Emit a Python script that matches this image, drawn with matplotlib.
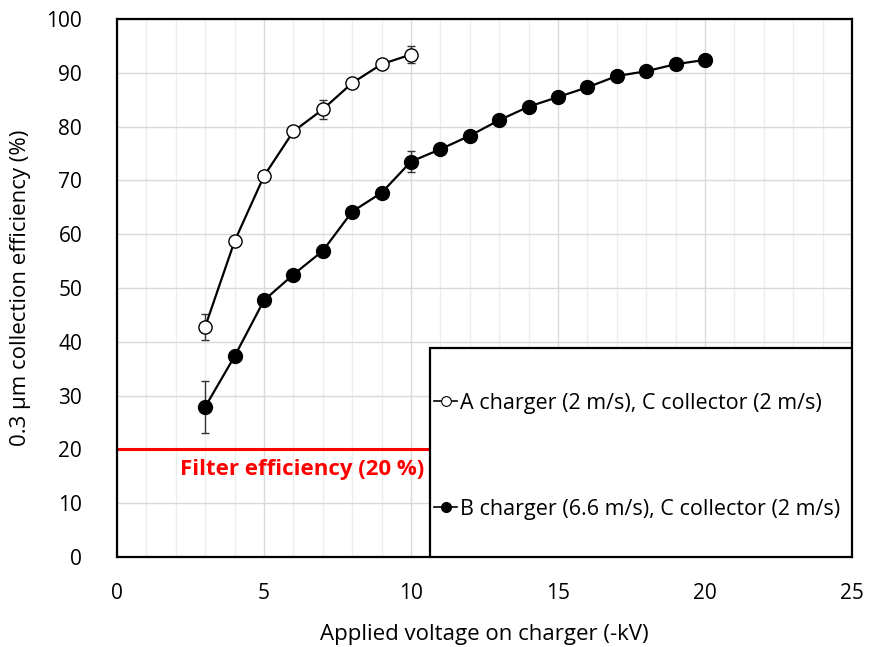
import numpy as np
import matplotlib
matplotlib.use("Agg")
import matplotlib.pyplot as plt
from matplotlib.patches import Rectangle
from matplotlib.lines import Line2D
from matplotlib.ticker import MultipleLocator

plt.rcParams['font.family'] = ['Open Sans', 'DejaVu Sans']

# A charger (2 m/s), C collector (2 m/s)
volt_a = [3, 4, 5, 6, 7, 8, 9, 10]
eff_a = [42.8, 58.7, 70.8, 79.1, 83.2, 88.1, 91.6, 93.4]
err_a = [2.4, 0, 0, 0, 1.8, 0, 0, 1.6]

# B charger (6.6 m/s), C collector (2 m/s)
volt_b = [3, 4, 5, 6, 7, 8, 9, 10, 11, 12, 13, 14, 15, 16, 17, 18, 19, 20]
eff_b = [27.9, 37.3, 47.7, 52.5, 56.9, 64.2, 67.7, 73.5, 75.8, 78.3, 81.2,
         83.7, 85.5, 87.3, 89.4, 90.3, 91.6, 92.4]
err_b = [4.9, 0, 0, 0, 1.1, 0, 0, 2.0, 0, 0, 0, 0, 0, 0, 0, 0, 0, 0]

label_a = "A charger (2 m/s), C collector (2 m/s)"
label_b = "B charger (6.6 m/s), C collector (2 m/s)"
filter_eff = 20

fig = plt.figure(figsize=(8.69, 6.47), dpi=100)
ax = fig.add_axes([0.1346, 0.1391, 0.8458, 0.8315])

ax.set_xlim(0, 25)
ax.set_ylim(0, 100)
ax.xaxis.set_major_locator(MultipleLocator(5))
ax.xaxis.set_minor_locator(MultipleLocator(1))
ax.yaxis.set_major_locator(MultipleLocator(10))
ax.grid(which='major', color='#d9d9d9', linewidth=1)
ax.grid(which='minor', axis='x', color='#ededed', linewidth=1)
ax.set_axisbelow(True)
ax.tick_params(which='both', length=0, labelsize=15)
ax.tick_params(axis='y', pad=25)
ax.tick_params(axis='x', pad=19)
for sp in ax.spines.values():
    sp.set_linewidth(1.6)
    sp.set_color('black')

ax.set_xlabel("Applied voltage on charger (-kV)", fontsize=16, labelpad=14)
ax.set_ylabel("0.3 μm collection efficiency (%)", fontsize=16, labelpad=11)

ax.axhline(filter_eff, color='#ff0000', linewidth=2.2, zorder=2)
ax.text(10.45, 16.2, "Filter efficiency (20 %)", color='#ff0000', fontsize=16,
        fontweight='bold', ha='right', va='center')

ax.errorbar(volt_a, eff_a, yerr=err_a, color='black', linewidth=1.6,
            marker='o', markersize=9.5, markerfacecolor='white',
            markeredgecolor='black', markeredgewidth=1.0,
            ecolor='#333333', elinewidth=1, capsize=3, label=label_a, zorder=3)
ax.errorbar(volt_b, eff_b, yerr=err_b, color='black', linewidth=1.6,
            marker='o', markersize=10, markerfacecolor='black',
            markeredgecolor='black',
            ecolor='#333333', elinewidth=1, capsize=3, label=label_b, zorder=3)

# legend box covering the lower right
box = Rectangle((0.426, 0), 0.574, 0.3885, transform=ax.transAxes,
                facecolor='white', edgecolor='black', linewidth=1.6, zorder=5)
ax.add_patch(box)

h_a = Line2D([], [], color='black', linewidth=1.2, marker='o', markersize=7,
             markerfacecolor='white', markeredgecolor='black', markeredgewidth=0.8)
h_b = Line2D([], [], color='black', linewidth=1.2, marker='o', markersize=7,
             markerfacecolor='black', markeredgecolor='black')
leg = ax.legend([h_a, h_b], [label_a, label_b], loc='center left',
                bbox_to_anchor=(0.431, 0.1870), frameon=False, fontsize=15.5,
                handlelength=1.1, handletextpad=0.1, labelspacing=3.95,
                borderpad=0, borderaxespad=0)
leg.set_zorder(6)

fig.savefig("out.png", dpi=100)
